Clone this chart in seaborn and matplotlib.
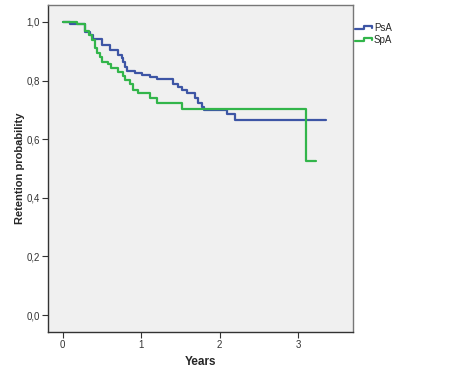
import pandas as pd
import matplotlib
matplotlib.use("Agg")
import matplotlib.pyplot as plt
import seaborn as sns
from matplotlib.lines import Line2D
from matplotlib.legend_handler import HandlerBase

# Kaplan-Meier style steps (years, retention probability)
psa_years = [0, 0.093, 0.29, 0.35, 0.39, 0.50, 0.60, 0.71, 0.75, 0.77, 0.79, 0.82,
             0.92, 1.01, 1.11, 1.20, 1.41, 1.47, 1.52, 1.58, 1.69, 1.73, 1.77, 1.80,
             2.10, 2.20, 3.355]
psa_prob = [1.0, 0.992, 0.967, 0.956, 0.942, 0.922, 0.904, 0.887, 0.877, 0.865, 0.847, 0.832,
            0.825, 0.819, 0.813, 0.804, 0.788, 0.779, 0.768, 0.759, 0.742, 0.725, 0.711, 0.700,
            0.686, 0.666, 0.666]

spa_years = [0, 0.18, 0.29, 0.33, 0.37, 0.41, 0.44, 0.47, 0.50, 0.58, 0.62, 0.71,
             0.77, 0.80, 0.86, 0.90, 0.96, 1.11, 1.20, 1.52, 3.10, 3.23]
spa_prob = [1.0, 0.993, 0.970, 0.955, 0.940, 0.910, 0.893, 0.882, 0.865, 0.857, 0.842, 0.830,
            0.815, 0.802, 0.790, 0.768, 0.757, 0.740, 0.722, 0.702, 0.527, 0.527]

groups = ["PsA", "SpA"]
colors = ["#3d55a5", "#32b54a"]
x_ticks = [0, 1, 2, 3]
y_ticks = [0.0, 0.2, 0.4, 0.6, 0.8, 1.0]
y_ticklabels = ["0,0", "0,2", "0,4", "0,6", "0,8", "1,0"]

df = pd.concat([
    pd.DataFrame({"Years": psa_years, "prob": psa_prob, "group": "PsA"}),
    pd.DataFrame({"Years": spa_years, "prob": spa_prob, "group": "SpA"}),
])


class StepHandler(HandlerBase):
    # petit symbole en escalier comme dans SPSS
    def create_artists(self, legend, orig_handle, xdescent, ydescent, width, height, fontsize, trans):
        x0 = -xdescent
        y0 = -ydescent
        xs = [x0, x0 + width * 0.5, x0 + width * 0.5, x0 + width, x0 + width]
        ys = [y0 + height * 0.25, y0 + height * 0.25, y0 + height * 0.8, y0 + height * 0.8, y0 + height * 0.5]
        line = Line2D(xs, ys, color=orig_handle.get_color(), lw=orig_handle.get_linewidth(), transform=trans)
        return [line]


sns.set_style("white")
plt.rcParams['font.family'] = ['Liberation Sans', 'DejaVu Sans']

fig = plt.figure(figsize=(4.72, 3.78), dpi=100)
ax = fig.add_axes([48 / 472, 1 - 332 / 378, 305 / 472, 327 / 378])
ax.set_facecolor("#f0f0f0")

sns.lineplot(data=df, x="Years", y="prob", hue="group", hue_order=groups,
             palette=colors, estimator=None, sort=False, drawstyle="steps-post",
             lw=1.6, ax=ax, legend=False)

ax.set_xlim(-0.187, 3.70)
ax.set_ylim(-0.058, 1.058)
ax.set_xticks(x_ticks)
ax.set_xticklabels([str(t) for t in x_ticks], fontsize=7)
ax.set_yticks(y_ticks)
ax.set_yticklabels(y_ticklabels, fontsize=7)
ax.tick_params(axis="both", direction="out", length=4, width=0.8, color="#333333",
               bottom=True, left=True, pad=2, labelcolor="#333333")

for side, sp in ax.spines.items():
    sp.set_visible(True)
    sp.set_linewidth(1.0)
    sp.set_color("#333333" if side in ("left", "bottom") else "#777777")

ax.set_xlabel("Years", fontsize=8.5, fontweight="bold", labelpad=4)
ax.set_ylabel("Retention probability", fontsize=8, fontweight="bold", labelpad=1)

handles = [Line2D([], [], color=c, lw=1.6) for c in colors]
fig.legend(handles, groups, loc="upper left", bbox_to_anchor=(355 / 472, 1 - 23 / 378),
           frameon=False, fontsize=7, handlelength=1.75, handletextpad=0.2,
           labelspacing=0.2, borderpad=0, borderaxespad=0,
           handler_map={Line2D: StepHandler()})

fig.savefig("out.png", dpi=100)
